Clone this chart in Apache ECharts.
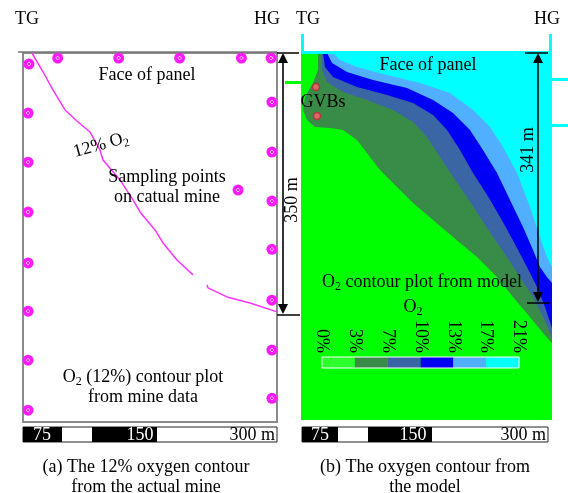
<!DOCTYPE html>
<html><head><meta charset="utf-8">
<script src="https://cdn.jsdelivr.net/npm/echarts@6/dist/echarts.min.js"></script>
<style>html,body{margin:0;padding:0;background:#fff}#c{width:568px;height:493px}</style>
</head><body><div id="c"></div>
<script>
// ---------- DATA (metres along panel: x from TG side, y down from face) ----------
const samplingPoints = [
  [41,6],[113,6],[185,6],[258,6],[293,6],
  [7,13],[6,71],[6,129],[6,188],[6,248],[6,305],[6,363],[6,422],
  [294,58],[294,117],[294,175],[294,232],[294,292],[294,351],[294,408],
  [254,162]
];
const contour12Seg1 = [[10.6,0],[22.4,20.1],[35.4,43.7],[49.6,67.3],[65,81.5],[79.1,93.3],[90.9,114.6],[94.5,126.4],[114.6,150],[129.9,173.6],[138.2,187.8],[155.9,209.1],[165.4,224.4],[181.9,244.5],[200.8,262.2]];
const contour12Seg2 = [[217.3,274],[218.5,277.6],[240.9,288.2],[268.1,295.3],[300,305.9]];

// model contour boundaries (upper-right of each line has higher O2)
const boundary3 = [[20.3,0],[20.3,20.2],[14.3,35.6],[4.8,52.3],[2.4,67.7],[7.2,79.6],[16.7,87.9],[34.7,89.1],[50.2,91.5],[66.9,103.4],[78.9,118.8],[94.4,139],[114.7,159.2],[133.9,178.2],[157.8,198.4],[181.7,218.6],[210.4,242.4],[234.3,266.1],[253.4,289.9],[273.7,313.6],[289.2,332.6],[300,344.5]];
const boundary7 = [[25.1,0],[25.1,20.2],[31.1,34.5],[50.2,46.3],[78.9,55.8],[110,67.7],[133.9,82],[150.6,99.8],[166.1,123.6],[181.7,147.3],[198.4,171.1],[213.9,194.8],[229.5,218.6],[246.2,242.4],[261.7,266.1],[277.3,289.9],[289.2,313.6],[300,337.4]];
const boundary10 = [[26.3,0],[28.7,16.6],[38.2,28.5],[66.9,40.4],[102.8,49.9],[133.9,59.4],[157.8,73.7],[174.5,91.5],[190,115.2],[205.6,142.6],[224,171.1],[240,198.4],[255,225.7],[270.1,254.2],[282.1,278],[291.6,301.8],[300,326.7]];
const boundary13 = [[31.1,0],[37.1,11.9],[55,22.6],[86.1,32.1],[126.7,41.6],[157.8,55.8],[181.7,71.3],[202,91.5],[217.5,115.2],[234.3,142.6],[249.8,174.6],[265.3,206.7],[277.3,234],[285.6,254.2],[294,266.1],[300,273.2]];
const boundary17 = [[38.2,0],[46.6,8.3],[66.9,16.6],[102.8,26.1],[142.2,35.6],[178.1,47.5],[205.6,67.7],[225.9,87.9],[241.4,111.7],[258.2,142.6],[273.7,183],[285.6,218.6],[294,242.4],[300,254.2]];
const gvbPoints = [[17.9,40.4],[19.1,74.8]];
const levelLabels = ['0%','3%','7%','10%','13%','17%','21%'];

// ---------- STYLE ----------
const FONT = "'Liberation Serif','Times New Roman',serif";
const bandColors = ['#2cff2c','#388c48','#3a66a6','#0000f5','#50b0ff','#00ffff'];
const X_MAX = 300, Y_MAX = 436;

function bandSeries(boundary, color) {
  return {
    type:'custom', xAxisIndex:1, yAxisIndex:1, data:[[0,0]], silent:true, z:2,
    renderItem:(params, api) => {
      const pts = boundary.map(p => api.coord(p));
      pts.push(api.coord([X_MAX, 0]));
      return {type:'polygon', shape:{points:pts}, style:{fill:color}};
    }
  };
}

function txt(x, y, text, opts) {
  opts = opts || {};
  return {
    type:'text', x:x, y:y, rotation:opts.rotation || 0, z:100,
    style:Object.assign({
      text:text, x:0, y:0, align:opts.align || 'center', verticalAlign:'middle',
      font:(opts.size || 18) + 'px ' + FONT, fill:opts.color || '#000',
      lineHeight:opts.lineHeight || 20
    }, opts.rich ? {rich:opts.rich} : {})
  };
}
const subRich = {
  n:{fontSize:18, fontFamily:FONT, lineHeight:22, verticalAlign:'middle'},
  s:{fontSize:12, fontFamily:FONT, lineHeight:22, verticalAlign:'bottom'}
};
function line(x1,y1,x2,y2,w,c){return {type:'line', z:100, shape:{x1,y1,x2,y2}, style:{stroke:c||'#000', lineWidth:w||1.5}};}
function rect(x,y,w,h,fill,stroke){return {type:'rect', z:99, shape:{x,y,width:w,height:h}, style:{fill:fill, stroke:stroke||null, lineWidth:1}};}
function tri(pts){return {type:'polygon', z:100, shape:{points:pts}, style:{fill:'#000'}};}

const graphics = [
  // headers
  txt(27,19,'TG'), txt(267,19,'HG'), txt(308,19,'TG'), txt(547,19,'HG'),
  // panel (a) texts
  line(18,52,277,52,1.5,'#777'),
  txt(147,75,'Face of panel'),
  txt(101,145,'{n|12% O}{s|2}',{rotation:0.27, rich:subRich}),
  txt(167,187,'Sampling points\non catual mine'),
  txt(143,377,'{n|O}{s|2}{n| (12%) contour plot}',{rich:subRich}),
  txt(143,397,'from mine data'),
  // 350 m arrow
  line(283,62,283,306,1.6), tri([[283,53],[278,63],[288,63]]), tri([[283,314],[278,304],[288,304]]),
  line(277,53,299,53), line(277,315,300,315),
  txt(292,200,'350 m',{rotation:Math.PI/2}),
  rect(285,81,16,3,'#00ff00'),
  // cyan markers on panel (b)
  rect(301,51,251,3,'#00ffff'), rect(301,34,3,19,'#00ffff'), rect(549,34,3,19,'#00ffff'),
  rect(552,78,16,3,'#00ffff'), rect(552,124,16,3,'#00ffff'),
  // panel (b) texts
  txt(428,65,'Face of panel'),
  txt(323,102,'GVBs'),
  txt(422,282,'{n|O}{s|2}{n| contour plot from model}',{rich:subRich}),
  txt(413,307,'{n|O}{s|2}',{rich:subRich}),
  // 341 m arrow
  line(538,62,538,293), tri([[538,53],[533,63],[543,63]]), tri([[538,302],[533,292],[543,292]]),
  line(525,53,548,53), line(527,303,550,303),
  txt(528,150,'341 m',{rotation:Math.PI/2}),
  // scale bars
  rect(23,427,254,15,'#fff','#222'), rect(23,427,39,15,'#000'), rect(92,427,65,15,'#000'),
  txt(42,435,'75',{color:'#fff'}), txt(140,435,'150',{color:'#fff'}), txt(275,435,'300 m',{align:'right'}),
  rect(302,427,246,15,'#fff','#222'), rect(302,427,36,15,'#000'), rect(368,427,64,15,'#000'),
  txt(320,435,'75',{color:'#fff'}), txt(413,435,'150',{color:'#fff'}), txt(546,435,'300 m',{align:'right'}),
  // captions
  txt(146,467,'(a) The 12% oxygen contour'), txt(146,487,'from the actual mine'),
  txt(425,467,'(b) The oxygen contour from'), txt(425,487,'the model')
];

const hiddenX = i => ({type:'value', gridIndex:i, min:0, max:X_MAX, show:false});
const hiddenY = i => ({type:'value', gridIndex:i, min:0, max:Y_MAX, inverse:true, show:false});

const option = {
  animation:false,
  backgroundColor:'#fff',
  grid:[
    {left:23, top:53, width:254, height:369, show:true, backgroundColor:'#fff', borderColor:'#8a8a8a', borderWidth:2},
    {left:301, top:53, width:251, height:367, show:true, backgroundColor:'#00ff00', borderWidth:0},
    {left:322, top:357, width:197, height:11, show:true, backgroundColor:'transparent', borderColor:'#ffffff', borderWidth:1, z:5}
  ],
  xAxis:[hiddenX(0), hiddenX(1),
    {type:'value', gridIndex:2, min:0, max:6, interval:1, position:'top',
     axisLine:{show:false}, axisTick:{show:false}, splitLine:{show:false},
     axisLabel:{rotate:-90, margin:4, fontSize:18, fontFamily:FONT, color:'#000',
       formatter:v => levelLabels[v]}}],
  yAxis:[hiddenY(0), hiddenY(1), {type:'value', gridIndex:2, min:0, max:1, show:false}],
  series:[
    {type:'line', xAxisIndex:0, yAxisIndex:0, data:contour12Seg1, symbol:'none', lineStyle:{color:'#ff33ff', width:1.5}, z:3},
    {type:'line', xAxisIndex:0, yAxisIndex:0, data:contour12Seg2, symbol:'none', lineStyle:{color:'#ff33ff', width:1.5}, z:3},
    {type:'scatter', xAxisIndex:0, yAxisIndex:0, data:samplingPoints, symbol:'circle', symbolSize:11, itemStyle:{color:'#ff1aff', opacity:1}, z:4},
    {type:'scatter', xAxisIndex:0, yAxisIndex:0, data:samplingPoints, symbol:'diamond', symbolSize:4.5, itemStyle:{color:'#ffffff', opacity:1}, z:5},
    {type:'scatter', xAxisIndex:0, yAxisIndex:0, data:samplingPoints, symbol:'circle', symbolSize:2.5, itemStyle:{color:'#ff1aff', opacity:1}, z:6},
    bandSeries(boundary3, bandColors[1]),
    bandSeries(boundary7, bandColors[2]),
    bandSeries(boundary10, bandColors[3]),
    bandSeries(boundary13, bandColors[4]),
    bandSeries(boundary17, bandColors[5]),
    {type:'scatter', xAxisIndex:1, yAxisIndex:1, data:gvbPoints, symbol:'circle', symbolSize:7,
     itemStyle:{color:'#d86a6a', borderColor:'#b03a3a', borderWidth:1.5, opacity:1}, z:6},
    {type:'custom', xAxisIndex:2, yAxisIndex:2, data:bandColors.map((c,i)=>[i]), z:4,
     renderItem:(params, api) => {
       const i = api.value(0);
       const p0 = api.coord([i,1]), p1 = api.coord([i+1,0]);
       return {type:'rect', shape:{x:p0[0], y:p0[1], width:p1[0]-p0[0], height:p1[1]-p0[1]}, style:{fill:bandColors[i]}};
     }}
  ],
  graphic:graphics
};
const chart = echarts.init(document.getElementById('c'), null, {renderer:'canvas'});
chart.setOption(option);
</script></body></html>
